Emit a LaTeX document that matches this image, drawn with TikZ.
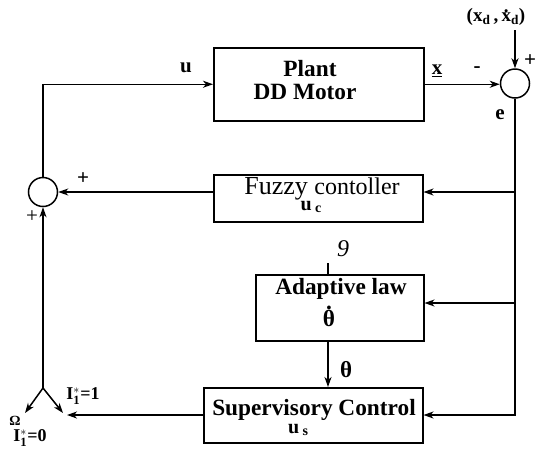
\documentclass[tikz,border=0pt]{standalone}
\usepackage{fontspec}
\setmainfont{Liberation Serif}
\setmathrm{Liberation Serif}
\usetikzlibrary{arrows.meta,calc}
\newcommand{\dotacc}[2]{\ooalign{#2\cr\hidewidth\smash{\raisebox{#1}{.}}\hidewidth\cr}}
\newcommand{\subl}[1]{\,\raisebox{-1.5pt}{\fontsize{14}{14}\selectfont #1}}
\begin{document}
\begin{tikzpicture}[x=1pt,y=-1pt,line width=1.5pt,
  >={Stealth[length=10pt,width=7pt,inset=3pt]},
  blk/.style={draw,rectangle,inner sep=0pt,anchor=north west},
  sumc/.style={draw,circle,minimum size=29pt,inner sep=0pt},
  boxtxt/.style={inner sep=0pt,font=\bfseries\fontsize{23.3}{23.3}\selectfont},
  lbl/.style={inner sep=0pt,font=\bfseries\fontsize{21}{21}\selectfont},
  slbl/.style={inner sep=0pt,font=\bfseries\fontsize{18}{18}\selectfont}]
\useasboundingbox (0,0) rectangle (535,459);
% blocks
\node[blk,minimum width=210pt,minimum height=73pt] (plant) at (213,47) {};
\node[blk,minimum width=209pt,minimum height=47pt] (fuz) at (213,174) {};
\node[blk,minimum width=168pt,minimum height=66pt] (ad) at (255,274) {};
\node[blk,minimum width=219pt,minimum height=55pt] (sup) at (203,387) {};
% summing junctions
\node[sumc] (sumR) at (515,83.5) {};
\node[sumc] (sumL) at (43,192) {};
% block texts
\node[boxtxt] (tPlant) at (310,68.5) {Plant};
\node[boxtxt] (tDD) at (305,92) {DD Motor};
\node[inner sep=0pt,font=\fontsize{26}{26}\selectfont,anchor=base] (tFuz) at (322,194) {Fuzzy {\fontsize{24}{24}\selectfont contoller}};
\node[inner sep=0pt,font=\bfseries\fontsize{20}{20}\selectfont] (tuc) at (311,207) {u\subl{c}};
\node[boxtxt] (tAd) at (341,289) {Adaptive law};
\node[boxtxt,anchor=base] (tthd) at (329,326) {\dotacc{0.7em}{θ}};
\node[boxtxt] (tSup) at (314,410) {Supervisory Control};
\node[inner sep=0pt,font=\bfseries\fontsize{20}{20}\selectfont] (tus) at (298,430) {u\subl{s}};
% labels
\node[lbl] (lu) at (186,68) {u};
\node[lbl] (lx) at (437,71) {\underline{x}};
\node[lbl] (lminus) at (477,70) {-};
\node[lbl] (lplusR) at (530,61) {+};
\node[lbl] (le) at (500,115) {e};
\node[inner sep=0pt,font=\bfseries\fontsize{19}{19}\selectfont] (lref) at (496,17) {(x\textsubscript{d}\,,\,\dotacc{0.48em}{x}\textsubscript{d})};
\node[lbl] (lplusL) at (83,179) {+};
\node[inner sep=0pt,font=\fontsize{21}{21}\selectfont] (lplusB) at (32,217) {+};
\node[inner sep=0pt,font=\itshape\fontsize{24}{24}\selectfont] (lnine) at (343,249) {9};
\node[inner sep=0pt,font=\bfseries\fontsize{23}{23}\selectfont] (ltheta) at (346,370) {θ};
\node[slbl] (lI1) at (83,396) {$\mathbf{I}_{\mathbf{1}}^{*}$=1};
\node[inner sep=0pt,font=\bfseries\fontsize{14}{14}\selectfont] (lOm) at (15,421) {Ω};
\node[slbl] (lI0) at (30,438) {$\mathbf{I}_{\mathbf{1}}^{*}$=0};
% coordinates
\coordinate (reftop) at (515,30);
\coordinate (sw) at (43,388);
\coordinate (s0) at (25,413);
\coordinate (s1) at (63,413);
\coordinate (swin) at (67,415);
\coordinate (supin) at (sup.east |- swin);
\coordinate (fuzin) at (fuz.east |- sumL);
\coordinate (adin) at (ad.east |- 0,303);
\coordinate (adb) at (ad.south -| 328,0);
\coordinate (adt) at (ad.north -| 328,0);
% connectors
\draw[->] (sumL.north) |- (plant.west);
\draw[->] (plant.east) -- (plant.east -| sumR.west);
\draw[->] (reftop) -- (sumR.north);
\draw[->] (sumR.south) |- (supin);
\draw[->] (sumR.south |- fuzin) -- (fuzin);
\draw[->] (fuz.west |- sumL) -- (sumL.east);
\draw[->] (sumR.south |- adin) -- (adin);
\draw[->] (adb) -- (adb |- sup.north);
\draw (adt) -- ++(0,-11);
\draw[->] (sup.west |- swin) -- (swin);
\draw[->] (sw) -- (s1);
\draw[->] (sw) -- (s0);
\draw[->] (sw) -- (sumL.south);
\end{tikzpicture}
\end{document}
